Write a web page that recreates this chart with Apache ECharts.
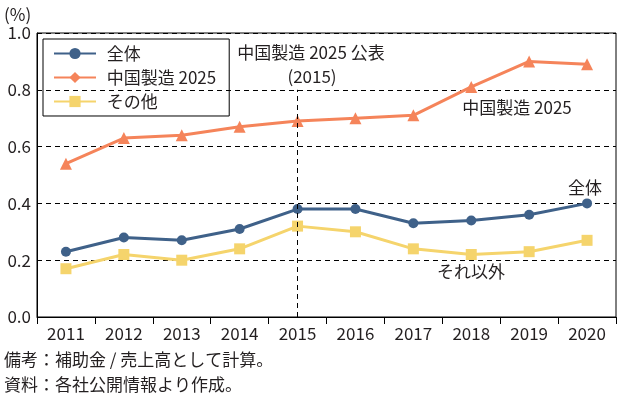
<!DOCTYPE html>
<html><head><meta charset="utf-8">
<script src="https://cdn.jsdelivr.net/npm/echarts@6/dist/echarts.min.js"></script>
<style>html,body{margin:0;padding:0;background:#fff}#c{width:621px;height:401px}</style>
</head><body><div id="c"></div>
<script>
const categories = ['2011','2012','2013','2014','2015','2016','2017','2018','2019','2020'];
const allValues = [0.23,0.28,0.27,0.31,0.38,0.38,0.33,0.34,0.36,0.40];
const mic2025Values = [0.54,0.63,0.64,0.67,0.69,0.70,0.71,0.81,0.90,0.89];
const otherValues = [0.17,0.22,0.20,0.24,0.32,0.30,0.24,0.22,0.23,0.27];
const seriesNames = ['全体','中国製造 2025','その他'];
const yTicks = [0,0.2,0.4,0.6,0.8,1.0];
const markYear = '2015';

const FONT = '"Noto Sans CJK JP", "Noto Sans", sans-serif';
const FS = 17;
const TXT = '#231f20';
const BLUE = '#3f6189', ORANGE = '#f5845a', YELLOW = '#f5d46c';

const chart = echarts.init(document.getElementById('c'));
chart.setOption({
  animation:false,
  textStyle:{fontFamily:FONT,color:TXT},
  grid:{left:37,right:5,top:33,bottom:84,show:true,borderColor:'#000',borderWidth:1,backgroundColor:'transparent'},
  legend:{
    data:seriesNames, orient:'vertical', left:43, top:39,
    borderColor:'#000', borderWidth:1, padding:[6,13,6,10], itemGap:7,
    itemWidth:42, itemHeight:14,
    formatter:n=>'\u2004'+n,
    textStyle:{fontSize:FS,color:TXT,fontFamily:FONT}
  },
  xAxis:{
    type:'category', data:categories, boundaryGap:true,
    axisLine:{lineStyle:{color:'#000',width:1}},
    axisTick:{show:true,length:7,lineStyle:{color:'#000'}},
    axisLabel:{fontSize:FS,color:TXT,margin:8,fontFamily:FONT},
    splitLine:{show:false}
  },
  yAxis:{
    type:'value', min:yTicks[0], max:yTicks[yTicks.length-1], interval:0.2,
    axisLine:{show:true,lineStyle:{color:'#000'}},
    axisTick:{show:false},
    axisLabel:{fontSize:FS,color:TXT,margin:6,fontFamily:FONT,formatter:v=>v.toFixed(1)},
    splitLine:{show:true,lineStyle:{color:'#000',type:[5,4],width:1}}
  },
  series:[
    {name:seriesNames[0],type:'line',data:allValues,color:BLUE,symbol:'circle',symbolSize:10,lineStyle:{width:3},
     markLine:{silent:true,symbol:'none',label:{show:false},lineStyle:{color:'#000',type:[5,4],width:1},
       data:[[{coord:[markYear,0]},{coord:[markYear,0.8]}]]}},
    {name:'mic2025-line',type:'line',data:mic2025Values,color:ORANGE,symbol:'triangle',symbolSize:12,lineStyle:{width:3}},
    {name:seriesNames[1],type:'line',data:[],color:ORANGE,symbol:'diamond',symbolSize:12,lineStyle:{width:3}},
    {name:seriesNames[2],type:'line',data:otherValues,color:YELLOW,symbol:'rect',symbolSize:11,lineStyle:{width:3}}
  ],
  graphic:[
    {type:'text',x:4,y:15,style:{text:'(%)',font:FS+'px '+FONT,fill:TXT,verticalAlign:'middle'}},
    {type:'text',x:311,y:53,style:{text:'中国製造 2025 公表',font:FS+'px '+FONT,fill:TXT,align:'center',verticalAlign:'middle'}},
    {type:'text',x:312,y:77,style:{text:'(2015)',font:FS+'px '+FONT,fill:TXT,align:'center',verticalAlign:'middle'}},
    {type:'text',x:517,y:108,style:{text:'中国製造 2025',font:FS+'px '+FONT,fill:TXT,align:'center',verticalAlign:'middle'}},
    {type:'text',x:585,y:188,style:{text:'全体',font:FS+'px '+FONT,fill:TXT,align:'center',verticalAlign:'middle'}},
    {type:'text',x:471,y:272,style:{text:'それ以外',font:FS+'px '+FONT,fill:TXT,align:'center',verticalAlign:'middle'}},
    {type:'text',x:4,y:360,style:{text:'備考：補助金 / 売上高として計算。',font:FS+'px '+FONT,fill:TXT,verticalAlign:'middle'}},
    {type:'text',x:4,y:385,style:{text:'資料：各社公開情報より作成。',font:FS+'px '+FONT,fill:TXT,verticalAlign:'middle'}}
  ]
});
</script></body></html>
